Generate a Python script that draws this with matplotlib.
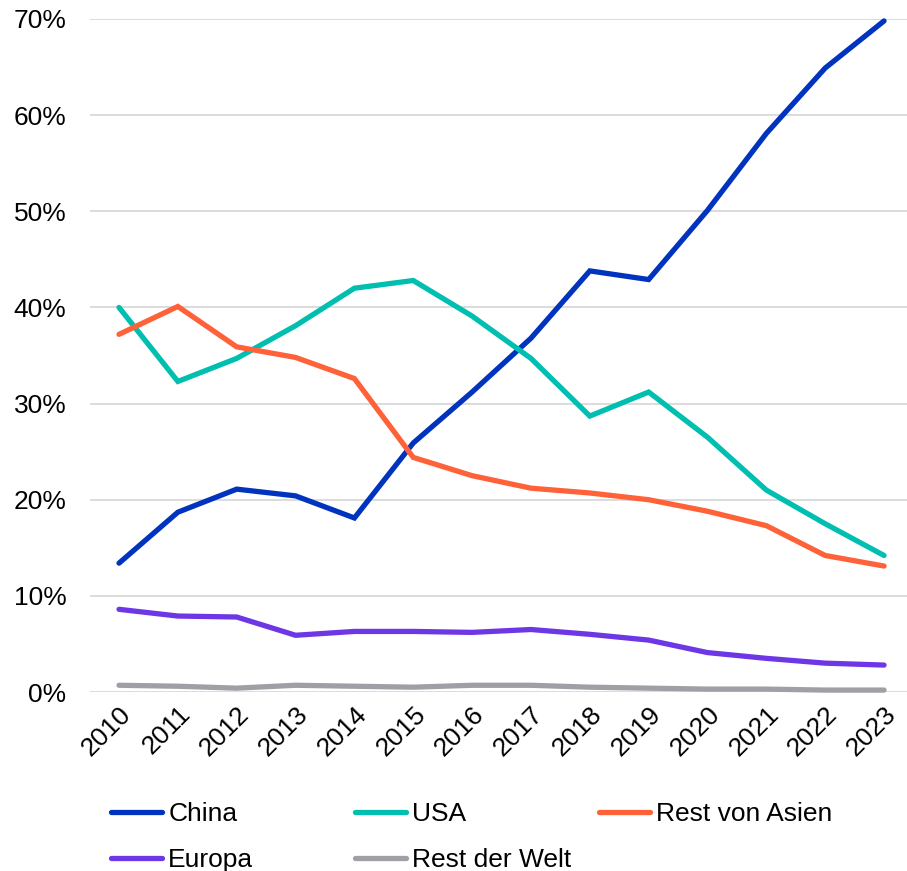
import matplotlib
matplotlib.use("Agg")
import matplotlib.pyplot as plt
from matplotlib.ticker import FuncFormatter

years = [str(y) for y in range(2010, 2024)]
china = [13.4, 18.7, 21.1, 20.4, 18.1, 25.9, 31.2, 36.8, 43.8, 42.9, 50.1, 58.1, 64.9, 69.8]
usa = [40.0, 32.3, 34.7, 38.1, 42.0, 42.8, 39.1, 34.7, 28.7, 31.2, 26.5, 21.0, 17.5, 14.2]
rest_asien = [37.2, 40.1, 35.9, 34.8, 32.6, 24.4, 22.5, 21.2, 20.7, 20.0, 18.8, 17.3, 14.2, 13.1]
europa = [8.6, 7.9, 7.8, 5.9, 6.3, 6.3, 6.2, 6.5, 6.0, 5.4, 4.1, 3.5, 3.0, 2.8]
rest_welt = [0.7, 0.6, 0.4, 0.7, 0.6, 0.5, 0.7, 0.7, 0.5, 0.4, 0.3, 0.3, 0.2, 0.2]

series = [
    ("China", china, "#0033BE"),
    ("USA", usa, "#00BFB0"),
    ("Rest von Asien", rest_asien, "#FF6138"),
    ("Europa", europa, "#6E37E6"),
    ("Rest der Welt", rest_welt, "#9EA0A5"),
]

plt.rcParams['font.family'] = ['Liberation Sans', 'DejaVu Sans']
FS = 19

fig = plt.figure(figsize=(9.07, 8.71), dpi=100)
ax = fig.add_axes([90/907, 179/871, 817/907, 673/871])

x = list(range(len(years)))
lines = {}
for name, vals, col in series:
    ln, = ax.plot(x, vals, color=col, lw=3.8, label=name, solid_capstyle='round',
                  solid_joinstyle='miter', clip_on=False, zorder=3)
    lines[name] = ln

ax.set_xlim(-0.493, 13.39)
ax.set_ylim(0, 70)
ax.set_yticks(range(0, 71, 10))
ax.yaxis.set_major_formatter(FuncFormatter(lambda v, p: f"{int(v)}%"))
ax.set_xticks(x)
ax.set_xticklabels(years, rotation=45, ha='right', rotation_mode='anchor')
ax.tick_params(axis='both', length=0, labelsize=FS, colors='black')
ax.tick_params(axis='y', pad=17)
ax.tick_params(axis='x', pad=7)
ax.grid(axis='y', color='#D9D9D9', lw=1.3, zorder=0)
for s in ax.spines.values():
    s.set_visible(False)

columns = [(["China", "Europa"], 111), (["USA", "Rest der Welt"], 355), (["Rest von Asien"], 599)]
for names, xpx in columns:
    leg = fig.legend([lines[n] for n in names], names, loc='upper left',
                     bbox_to_anchor=(xpx/907, 1 - 802/871),
                     ncol=1, frameon=False, fontsize=FS, handlelength=1.95,
                     handletextpad=0.22, labelspacing=0.85,
                     borderaxespad=0, borderpad=0)

fig.savefig("out.png", dpi=100)
